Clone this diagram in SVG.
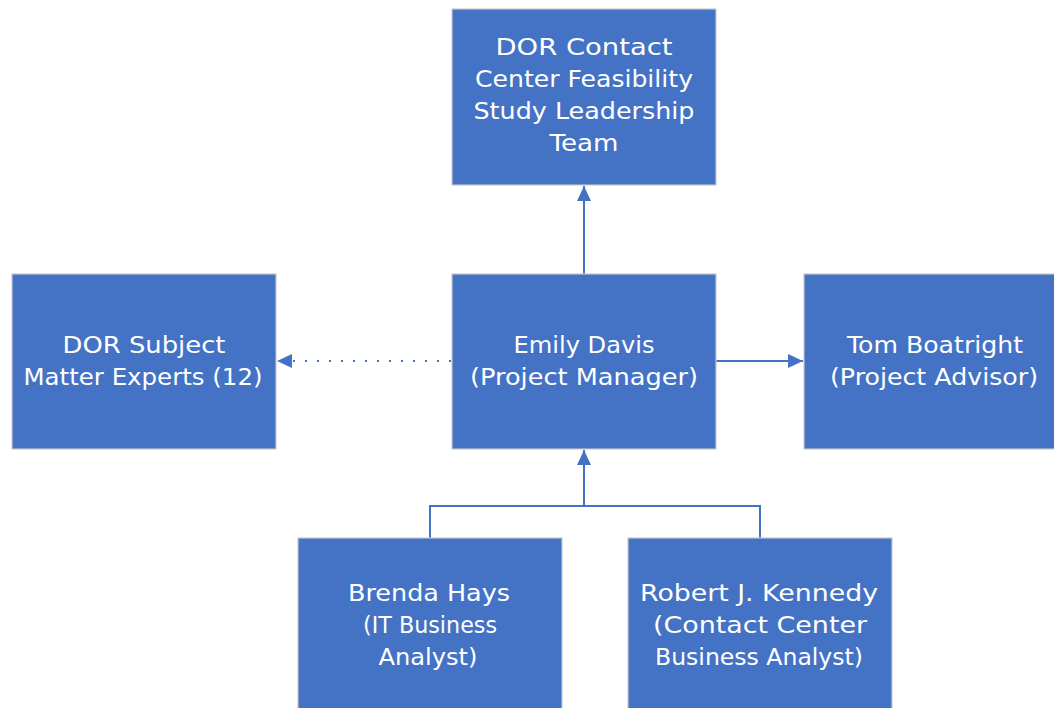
<svg xmlns="http://www.w3.org/2000/svg" width="1054" height="708" viewBox="0 0 1054 708">
<style>
.box{fill:#4472C4;stroke:#c9c9c9;stroke-width:1.2}
.lbl{font-family:"DejaVu Sans","Liberation Sans",sans-serif;font-size:23px;fill:#ffffff;text-anchor:middle}
.con{fill:none;stroke:#4472C4;stroke-width:2}
.dot{fill:none;stroke:#4472C4;stroke-width:2;stroke-dasharray:2 10}
</style>
<defs>
<marker id="arr" markerWidth="15" markerHeight="14" refX="15" refY="7" orient="auto" markerUnits="userSpaceOnUse">
<path d="M0,0 L15,7 L0,14 Z" fill="#4472C4"/>
</marker>
</defs>
<rect width="1054" height="708" fill="#ffffff"/>
<g id="connectors">
<line class="con" x1="584" y1="274" x2="584" y2="186" marker-end="url(#arr)"/>
<line class="con" x1="716" y1="361" x2="803" y2="361" marker-end="url(#arr)"/>
<line class="dot" x1="451" y1="361" x2="292" y2="361"/>
<path d="M292,354 L277,361 L292,368 Z" fill="#4472C4"/>
<path class="con" d="M430,538 V506 H760 V538"/>
<line class="con" x1="584" y1="506" x2="584" y2="450" marker-end="url(#arr)"/>
</g>
<g id="node-leadership">
<rect class="box" x="452" y="9" width="264" height="176"/>
<text class="lbl" x="584" y="55" textLength="177" lengthAdjust="spacingAndGlyphs">DOR Contact</text>
<text class="lbl" x="584" y="87" textLength="218" lengthAdjust="spacingAndGlyphs">Center Feasibility</text>
<text class="lbl" x="584" y="119" textLength="221" lengthAdjust="spacingAndGlyphs">Study Leadership</text>
<text class="lbl" x="584" y="151" textLength="69" lengthAdjust="spacingAndGlyphs">Team</text>
</g>
<g id="node-sme">
<rect class="box" x="12" y="274" width="264" height="175"/>
<text class="lbl" x="144" y="353" textLength="163" lengthAdjust="spacingAndGlyphs">DOR Subject</text>
<text class="lbl" x="143" y="385" textLength="239" lengthAdjust="spacingAndGlyphs">Matter Experts (12)</text>
</g>
<g id="node-pm">
<rect class="box" x="452" y="274" width="264" height="175"/>
<text class="lbl" x="584" y="353" textLength="141" lengthAdjust="spacingAndGlyphs">Emily Davis</text>
<text class="lbl" x="584" y="385" textLength="228" lengthAdjust="spacingAndGlyphs">(Project Manager)</text>
</g>
<g id="node-advisor">
<rect class="box" x="804" y="274" width="264" height="175"/>
<text class="lbl" x="935" y="353" textLength="176" lengthAdjust="spacingAndGlyphs">Tom Boatright</text>
<text class="lbl" x="934" y="385" textLength="208" lengthAdjust="spacingAndGlyphs">(Project Advisor)</text>
</g>
<g id="node-brenda">
<rect class="box" x="298" y="538" width="264" height="176"/>
<text class="lbl" x="429" y="601" textLength="162" lengthAdjust="spacingAndGlyphs">Brenda Hays</text>
<text class="lbl" x="430" y="633" textLength="134" lengthAdjust="spacingAndGlyphs">(IT Business</text>
<text class="lbl" x="428" y="665" textLength="99" lengthAdjust="spacingAndGlyphs">Analyst)</text>
</g>
<g id="node-robert">
<rect class="box" x="628" y="538" width="264" height="176"/>
<text class="lbl" x="759" y="601" textLength="238" lengthAdjust="spacingAndGlyphs">Robert J. Kennedy</text>
<text class="lbl" x="760" y="633" textLength="214" lengthAdjust="spacingAndGlyphs">(Contact Center</text>
<text class="lbl" x="759" y="665" textLength="208" lengthAdjust="spacingAndGlyphs">Business Analyst)</text>
</g>
</svg>
